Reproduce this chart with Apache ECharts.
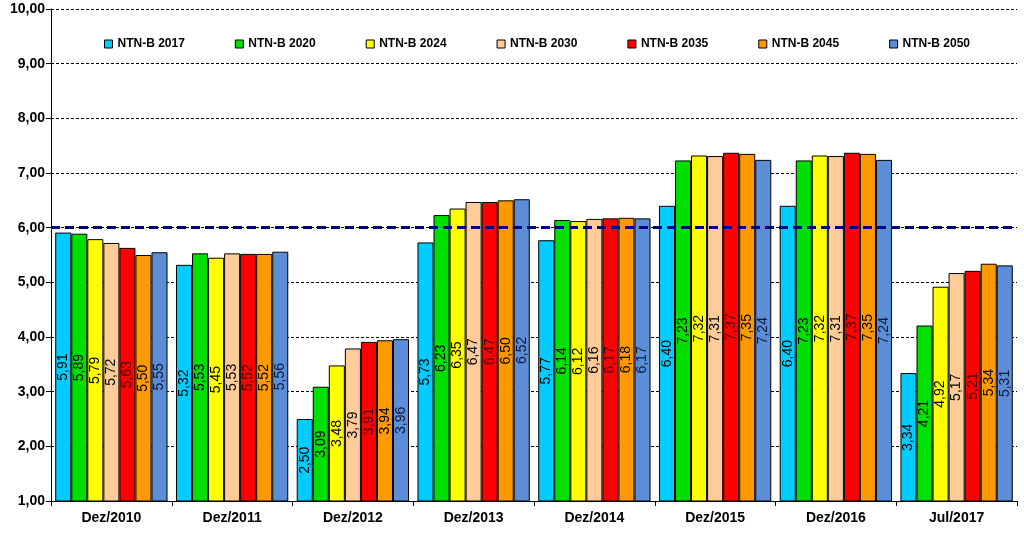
<!DOCTYPE html>
<html><head><meta charset="utf-8">
<script src="https://cdn.jsdelivr.net/npm/echarts@6/dist/echarts.min.js"></script>
<style>html,body{margin:0;padding:0;background:#fff}#c{width:1024px;height:533px}</style>
</head><body><div id="c"></div>
<script>
const categories = ['Dez/2010','Dez/2011','Dez/2012','Dez/2013','Dez/2014','Dez/2015','Dez/2016','Jul/2017'];
const seriesNames = ['NTN-B 2017','NTN-B 2020','NTN-B 2024','NTN-B 2030','NTN-B 2035','NTN-B 2045','NTN-B 2050'];
const ntnb2017 = [5.91,5.32,2.50,5.73,5.77,6.40,6.40,3.34];
const ntnb2020 = [5.89,5.53,3.09,6.23,6.14,7.23,7.23,4.21];
const ntnb2024 = [5.79,5.45,3.48,6.35,6.12,7.32,7.32,4.92];
const ntnb2030 = [5.72,5.53,3.79,6.47,6.16,7.31,7.31,5.17];
const ntnb2035 = [5.63,5.52,3.91,6.47,6.17,7.37,7.37,5.21];
const ntnb2045 = [5.50,5.52,3.94,6.50,6.18,7.35,7.35,5.34];
const ntnb2050 = [5.55,5.56,3.96,6.52,6.17,7.24,7.24,5.31];
const referenceLine = 6.00;
const yMin = 1, yMax = 10, yInterval = 1;

const values = [ntnb2017,ntnb2020,ntnb2024,ntnb2030,ntnb2035,ntnb2045,ntnb2050];
const colors = ['#00CCFF','#00E000','#FFFF00','#FFCC99','#FF0000','#FF9900','#5B8ED6'];
const fmt = v => v.toFixed(2).replace('.', ',');

const series = seriesNames.map((n, i) => ({
  name: n, type: 'bar', data: values[i],
  barGap: '0%', barCategoryGap: '7%',
  itemStyle: {color: colors[i], borderColor: '#000', borderWidth: 1},
  label: {show: true, position: 'inside', rotate: 90, formatter: p => fmt(p.value),
    color: i === 4 ? '#400000' : (i === 6 ? '#0a1a3a' : '#000'),
    fontFamily: '"Liberation Sans Narrow","Arial Narrow","Liberation Sans",Arial,sans-serif', fontSize: 14},
  emphasis: {disabled: true},
  markLine: i === 0 ? {symbol: 'none', silent: true, label: {show: false},
    lineStyle: {color: '#000080', type: [9, 5], width: 3},
    data: [{yAxis: referenceLine}]} : undefined
}));

const chart = echarts.init(document.getElementById('c'), null, {renderer: 'canvas'});
chart.setOption({
  animation: false,
  color: colors,
  textStyle: {fontFamily: '"Liberation Sans",Arial,sans-serif'},
  legend: {
    top: 33, left: 99, itemGap: 50, itemWidth: 8, itemHeight: 8, icon: 'rect',
    itemStyle: {borderColor: '#000', borderWidth: 1},
    textStyle: {fontWeight: 'bold', fontSize: 12, color: '#000'},
    data: seriesNames
  },
  grid: {left: 51, right: 7, top: 9, bottom: 32, containLabel: false},
  xAxis: {
    type: 'category', data: categories,
    axisLine: {lineStyle: {color: '#000'}},
    axisTick: {show: true, length: 5, lineStyle: {color: '#000'}},
    axisLabel: {fontWeight: 'bold', fontSize: 14, color: '#000', margin: 10}
  },
  yAxis: {
    type: 'value', min: yMin, max: yMax, interval: yInterval,
    axisLine: {show: true, lineStyle: {color: '#000'}},
    axisTick: {show: true, length: 5, lineStyle: {color: '#000'}},
    axisLabel: {fontWeight: 'bold', fontSize: 14, color: '#000', formatter: v => fmt(v), margin: 6},
    splitLine: {show: true, lineStyle: {color: '#000', type: [3, 2], width: 1}}
  },
  series: series
});
</script></body></html>
